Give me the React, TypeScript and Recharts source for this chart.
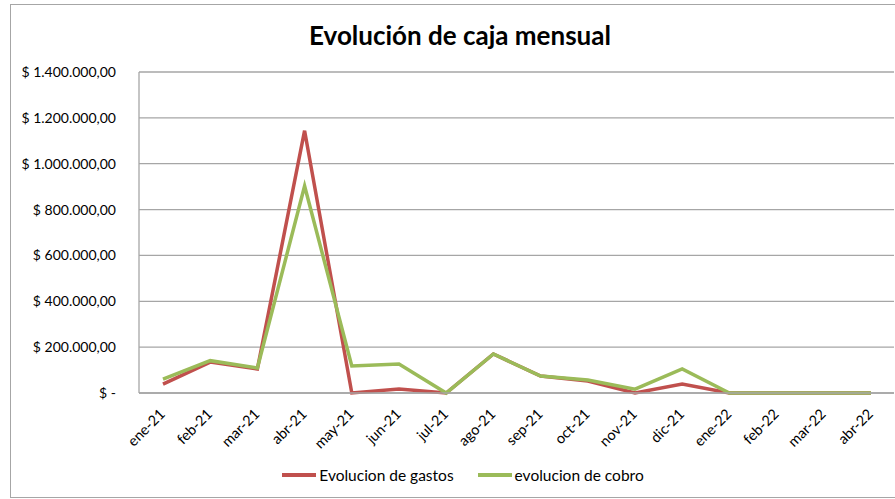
import { LineChart, Line, XAxis, YAxis, CartesianGrid } from "recharts";

const months = [
  "ene-21", "feb-21", "mar-21", "abr-21", "may-21", "jun-21", "jul-21", "ago-21",
  "sep-21", "oct-21", "nov-21", "dic-21", "ene-22", "feb-22", "mar-22", "abr-22",
];
const gastos = [39000, 135000, 105000, 1144000, 0, 17000, 0, 170000, 74000, 52000, 0, 39000, 0, 0, 0, 0];
const cobro = [61000, 141000, 109000, 903000, 118000, 126000, 0, 170000, 74000, 57000, 17000, 105000, 0, 0, 0, 0];
const yTicks = [0, 200000, 400000, 600000, 800000, 1000000, 1200000, 1400000];
const seriesNames = ["Evolucion de gastos", "evolucion de cobro"];
const seriesColors = ["#c0504d", "#9bbb59"];

const data = months.map((m, i) => ({ month: m, gastos: gastos[i], cobro: cobro[i] }));

const FONT = "Lato, 'Open Sans', sans-serif";

function fmt(v: number) {
  if (v === 0) return "$ -   ";
  return "$ " + v.toLocaleString("de-DE", { minimumFractionDigits: 2, maximumFractionDigits: 2 });
}

function XTick(props: any) {
  const { x, y, payload } = props;
  return (
    <g transform={`translate(${x + 3},${y + 14})`}>
      <text transform="rotate(-45)" textAnchor="end" fontSize={14.5} fill="#000" fontFamily={FONT}>
        {payload.value}
      </text>
    </g>
  );
}

export default function App() {
  return (
    <div style={{ position: "absolute", left: 0, top: 0, width: 895, height: 499, background: "#fff", overflow: "hidden", fontFamily: FONT }}>
      <div style={{ position: "absolute", left: 10, top: 4, width: 900, height: 492, border: "1px solid #a6a6a6" }} />
      <div style={{ position: "absolute", left: 0, top: 19, width: 920, textAlign: "center", fontSize: 26, fontWeight: 700, color: "#000" }}>
        Evolución de caja mensual
      </div>
      <div style={{ position: "absolute", left: 0, top: 0 }}>
        <LineChart width={895} height={499} data={data} margin={{ top: 72, right: 1, left: 0, bottom: 46 }}>
          <CartesianGrid vertical={false} stroke="#a6a6a6" strokeWidth={1.3} />
          <XAxis
            dataKey="month"
            axisLine={{ stroke: "#a6a6a6", strokeWidth: 1.3 }}
            tickLine={false}
            interval={0}
            height={60}
            padding={{ left: 24, right: 23 }}
            tick={<XTick />}
          />
          <YAxis
            domain={[0, 1400000]}
            ticks={yTicks}
            width={139}
            axisLine={{ stroke: "#a6a6a6", strokeWidth: 1.3 }}
            tickLine={false}
            tickFormatter={fmt}
            tickMargin={17}
            tick={{ fill: "#000", fontSize: 14, fontFamily: FONT }}
          />
          <Line dataKey="gastos" name={seriesNames[0]} stroke={seriesColors[0]} strokeWidth={3.5} dot={false} isAnimationActive={false} />
          <Line dataKey="cobro" name={seriesNames[1]} stroke={seriesColors[1]} strokeWidth={3.5} dot={false} isAnimationActive={false} />
        </LineChart>
      </div>
      <div style={{ position: "absolute", left: 0, top: 466, width: 926, display: "flex", justifyContent: "center", fontSize: 15.5, color: "#000" }}>
        {seriesNames.map((n, i) => (
          <div key={n} style={{ display: "flex", alignItems: "center", marginRight: i === 0 ? 24 : 0 }}>
            <div style={{ width: 34, height: 4, background: seriesColors[i], marginRight: 3 }} />
            <span>{n}</span>
          </div>
        ))}
      </div>
    </div>
  );
}
